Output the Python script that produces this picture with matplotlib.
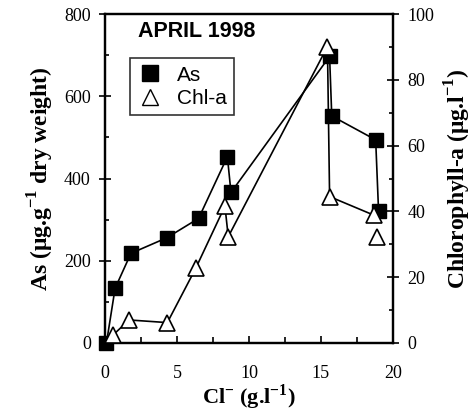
import matplotlib.pyplot as plt
from matplotlib.ticker import MultipleLocator

# As in sediment (left axis)
cl_as = [0.1, 0.7, 1.8, 4.3, 6.5, 8.5, 8.75, 15.6, 15.75, 18.8, 19.0]
as_vals = [0, 133, 218, 256, 303, 453, 366, 697, 552, 494, 322]

# Chlorophyll-a (right axis)
cl_chl = [0.55, 1.67, 4.33, 6.3, 8.33, 8.56, 15.45, 15.6, 18.65]
chl_vals = [2.4, 7.0, 6.2, 22.7, 41.6, 32.3, 90.1, 44.5, 38.9]
cl_chl_extra = [18.9]
chl_extra = [32.3]

serif = 'Liberation Serif'
sans = 'Liberation Sans'
plt.rcParams['mathtext.fontset'] = 'custom'
plt.rcParams['mathtext.rm'] = serif
plt.rcParams['mathtext.bf'] = serif + ':bold'

fig = plt.figure(figsize=(4.72, 4.16), dpi=100)
ax = fig.add_axes([0.2225, 0.1755, 0.61, 0.7908])
ax2 = ax.twinx()

ax.plot(cl_as, as_vals, color='black', lw=1.2, marker='s', ms=10,
        mfc='black', mec='black', zorder=3, clip_on=False)
ax2.plot(cl_chl, chl_vals, color='black', lw=1.2, marker='^', ms=11,
         mfc='white', mec='black', mew=1.2, zorder=3, clip_on=False)
ax2.plot(cl_chl_extra, chl_extra, ls='none', marker='^', ms=11,
         mfc='white', mec='black', mew=1.2, zorder=3, clip_on=False)

ax.set_xlim(0, 20)
ax.set_ylim(0, 800)
ax2.set_ylim(0, 100)

ax.xaxis.set_major_locator(MultipleLocator(5))
ax.xaxis.set_minor_locator(MultipleLocator(2.5))
ax.yaxis.set_major_locator(MultipleLocator(200))
ax.yaxis.set_minor_locator(MultipleLocator(100))
ax2.yaxis.set_major_locator(MultipleLocator(20))
ax2.yaxis.set_minor_locator(MultipleLocator(10))

for a in (ax, ax2):
    for s in a.spines.values():
        s.set_linewidth(1.6)
ax.tick_params(axis='x', which='major', direction='in', length=5, width=1.2,
               labelsize=13, pad=16)
ax.tick_params(axis='x', which='minor', direction='in', length=4, width=1.2)
ax.tick_params(axis='y', which='major', direction='inout', length=8.5, width=1.2,
               labelsize=13, pad=6)
ax.tick_params(axis='y', which='minor', direction='in', length=3, width=1.2)
ax2.tick_params(axis='y', which='major', direction='inout', length=8.5, width=1.2,
                labelsize=13, pad=6)
ax2.tick_params(axis='y', which='minor', direction='in', length=3, width=1.2)

for lbl in ax.get_xticklabels() + ax.get_yticklabels() + ax2.get_yticklabels():
    lbl.set_fontfamily(serif)

ax.set_xlabel(r'Cl$^{\mathbf{-}}$ (g.l$^{\mathbf{-1}}$)', fontfamily=serif,
              fontweight='bold', fontsize=16, labelpad=0)
ax.set_ylabel(r'As ($\mathbf{\mu}$g.g$^{\mathbf{-1}}$ dry weight)', fontfamily=serif,
              fontweight='bold', fontsize=17, labelpad=6)
ax2.set_ylabel(r'Chlorophyll-a ($\mathbf{\mu}$g.l$^{\mathbf{-1}}$)', fontfamily=serif,
               fontweight='bold', fontsize=17, labelpad=6)

ax.text(0.115, 0.948, 'APRIL 1998', transform=ax.transAxes, fontfamily=sans,
        fontweight='bold', fontsize=15.5, va='center', ha='left')

h1, = ax.plot([], [], ls='none', marker='s', ms=11.5, mfc='black', mec='black')
h2, = ax.plot([], [], ls='none', marker='^', ms=12, mfc='white', mec='black')
leg = ax.legend([h1, h2], ['As', 'Chl-a'], loc='upper left',
                bbox_to_anchor=(0.087, 0.865), borderaxespad=0,
                frameon=True, fancybox=False,
                edgecolor='black', prop={'family': sans, 'size': 15},
                handletextpad=0.7, borderpad=0.35, labelspacing=0.2,
                handlelength=1.2)
leg.get_frame().set_linewidth(1.2)
leg.set_zorder(5)

fig.savefig('out.png', dpi=100)
